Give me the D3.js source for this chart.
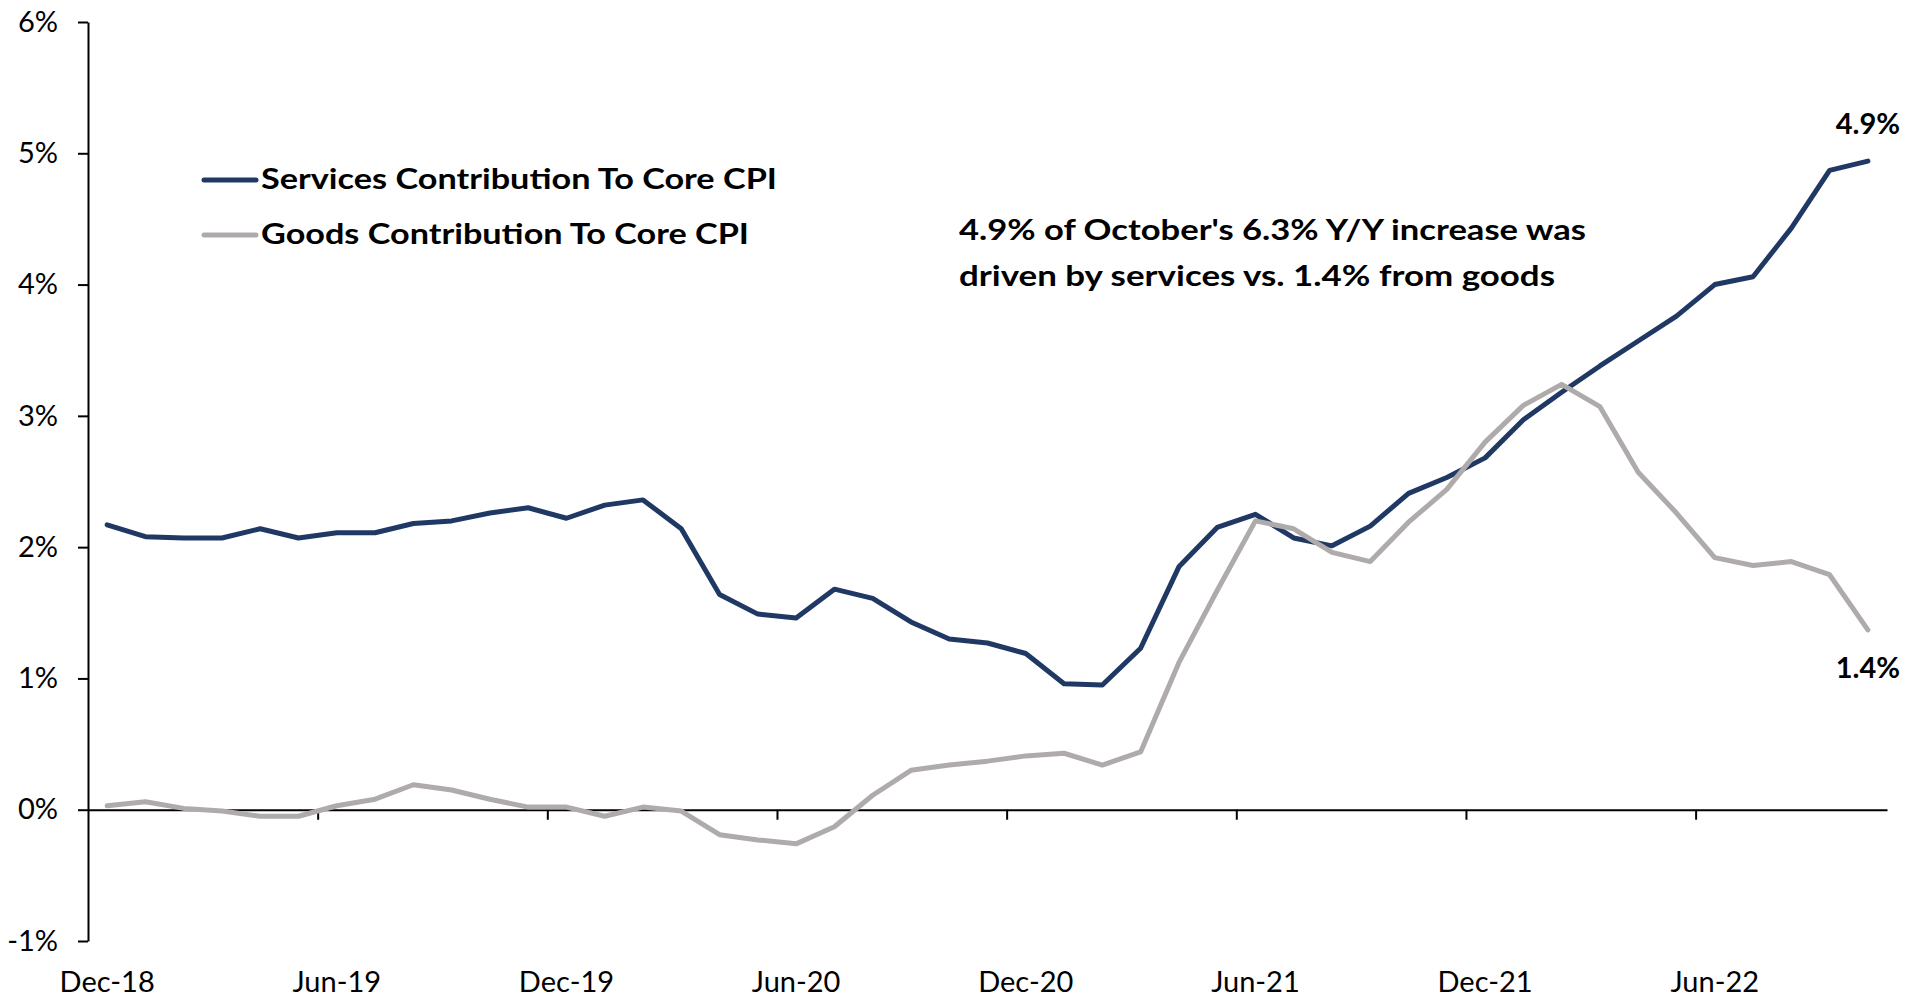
<!DOCTYPE html>
<html>
<head>
<meta charset="utf-8">
<script src="https://cdn.jsdelivr.net/npm/d3@7"></script>
<style>
  html, body { margin: 0; padding: 0; background: #ffffff; }
  svg { display: block; }
  text { font-family: Lato, "Open Sans", "Liberation Sans", sans-serif; fill: #000; }
</style>
</head>
<body>
<svg id="chart" width="1921" height="997"></svg>
<script>
const categories = [
  "Dec-18",
  "Jan-19","Feb-19","Mar-19","Apr-19","May-19","Jun-19","Jul-19","Aug-19","Sep-19","Oct-19","Nov-19","Dec-19",
  "Jan-20","Feb-20","Mar-20","Apr-20","May-20","Jun-20","Jul-20","Aug-20","Sep-20","Oct-20","Nov-20","Dec-20",
  "Jan-21","Feb-21","Mar-21","Apr-21","May-21","Jun-21","Jul-21","Aug-21","Sep-21","Oct-21","Nov-21","Dec-21",
  "Jan-22","Feb-22","Mar-22","Apr-22","May-22","Jun-22","Jul-22","Aug-22","Sep-22","Oct-22"
];
const servicesValues = [
  2.17,2.08,2.07,2.07,2.14,2.07,2.11,2.11,2.18,2.20,2.26,2.30,2.22,
  2.32,2.36,2.14,1.64,1.49,1.46,1.68,1.61,1.43,1.30,1.27,1.19,
  0.96,0.95,1.23,1.85,2.15,2.25,2.07,2.01,2.16,2.41,2.53,2.68,
  2.97,3.18,3.38,3.57,3.76,4.00,4.06,4.43,4.87,4.94
];
const goodsValues = [
  0.03,0.06,0.01,-0.01,-0.05,-0.05,0.03,0.08,0.19,0.15,0.08,0.02,0.02,
  -0.05,0.02,-0.01,-0.19,-0.23,-0.26,-0.13,0.11,0.30,0.34,0.37,0.41,
  0.43,0.34,0.44,1.12,1.67,2.20,2.14,1.96,1.89,2.19,2.44,2.80,
  3.08,3.24,3.07,2.57,2.26,1.92,1.86,1.89,1.79,1.37
];
const yTickValues = [-1, 0, 1, 2, 3, 4, 5, 6];
const xLabelValues = ["Dec-18","Jun-19","Dec-19","Jun-20","Dec-20","Jun-21","Dec-21","Jun-22"];
const seriesNames = ["Services Contribution To Core CPI", "Goods Contribution To Core CPI"];
const annotationLines = ["4.9% of October's 6.3% Y/Y increase was", "driven by services vs. 1.4% from goods"];
const endLabels = ["4.9%", "1.4%"];

const NAVY = "#203864";
const GRAY = "#AFABAB";

const svg = d3.select("#chart");
const plotLeft = 88, plotRight = 1887, plotTop = 22, plotBottom = 941;

const x = d3.scaleBand().domain(categories).range([plotLeft, plotRight]).padding(0);
const xEdge = d3.scaleLinear().domain([0, categories.length]).range([plotLeft, plotRight]);
const y = d3.scaleLinear().domain([-1, 6]).range([plotBottom, plotTop]);
const cx = d => x(d) + x.bandwidth() / 2;

// Y axis
const yAxis = svg.append("g")
  .attr("transform", `translate(${plotLeft},0)`)
  .call(d3.axisLeft(y).tickValues(yTickValues).tickSize(10).tickSizeOuter(0).tickPadding(20).tickFormat(d => d + "%"));
yAxis.select(".domain").attr("stroke", "#000").attr("stroke-width", 2);
yAxis.selectAll(".tick line").attr("stroke", "#000").attr("stroke-width", 2);
yAxis.selectAll("text").attr("font-size", 29).attr("fill", "#000").style("font-family", "Lato, 'Open Sans', sans-serif");

// X axis baseline at 0% with ticks between categories
const xTickIdx = [6, 12, 18, 24, 30, 36, 42];
const xAxis = svg.append("g")
  .attr("transform", `translate(0,${y(0)})`)
  .call(d3.axisBottom(xEdge).tickValues(xTickIdx).tickSize(10).tickSizeOuter(0).tickFormat(""));
xAxis.select(".domain").attr("stroke", "#000").attr("stroke-width", 2);
xAxis.selectAll(".tick line").attr("stroke", "#000").attr("stroke-width", 2);

// X labels at bottom
const xLab = svg.append("g")
  .attr("transform", `translate(0,${plotBottom + 30})`)
  .call(d3.axisBottom(x).tickValues(xLabelValues).tickSize(0).tickPadding(0));
xLab.select(".domain").remove();
xLab.selectAll("text").attr("font-size", 29).attr("fill", "#000").attr("dy", "0.71em").style("font-family", "Lato, 'Open Sans', sans-serif");

// Lines
const series = [
  { name: seriesNames[0], values: servicesValues, color: NAVY },
  { name: seriesNames[1], values: goodsValues, color: GRAY }
];
const line = d3.line().x((d, i) => cx(categories[i])).y(d => y(d));
svg.append("g").selectAll("path").data(series).join("path")
  .attr("d", s => line(s.values))
  .attr("fill", "none")
  .attr("stroke", s => s.color)
  .attr("stroke-width", 5)
  .attr("stroke-linejoin", "round")
  .attr("stroke-linecap", "round");

// Legend
const legend = svg.append("g");
const legendY = [180, 235];
const legendW = [516, 488];
series.forEach((s, i) => {
  legend.append("line")
    .attr("x1", 204).attr("x2", 256)
    .attr("y1", legendY[i]).attr("y2", legendY[i])
    .attr("stroke", s.color).attr("stroke-width", 5).attr("stroke-linecap", "round");
  legend.append("text")
    .attr("x", 261).attr("y", legendY[i] + 9)
    .attr("font-size", 29).attr("font-weight", "bold")
    .attr("textLength", legendW[i]).attr("lengthAdjust", "spacingAndGlyphs")
    .text(s.name);
});

// Annotation
const annW = [627, 596];
const annY = [240, 286];
annotationLines.forEach((t, i) => {
  svg.append("text")
    .attr("x", 959).attr("y", annY[i])
    .attr("font-size", 29).attr("font-weight", "bold")
    .attr("textLength", annW[i]).attr("lengthAdjust", "spacingAndGlyphs")
    .text(t);
});

// End labels
const lastCat = categories[categories.length - 1];
svg.append("text")
  .attr("x", cx(lastCat)).attr("y", 134)
  .attr("text-anchor", "middle").attr("font-size", 29).attr("font-weight", "bold")
  .text(endLabels[0]);
svg.append("text")
  .attr("x", cx(lastCat)).attr("y", 678)
  .attr("text-anchor", "middle").attr("font-size", 29).attr("font-weight", "bold")
  .text(endLabels[1]);
</script>
</body>
</html>
